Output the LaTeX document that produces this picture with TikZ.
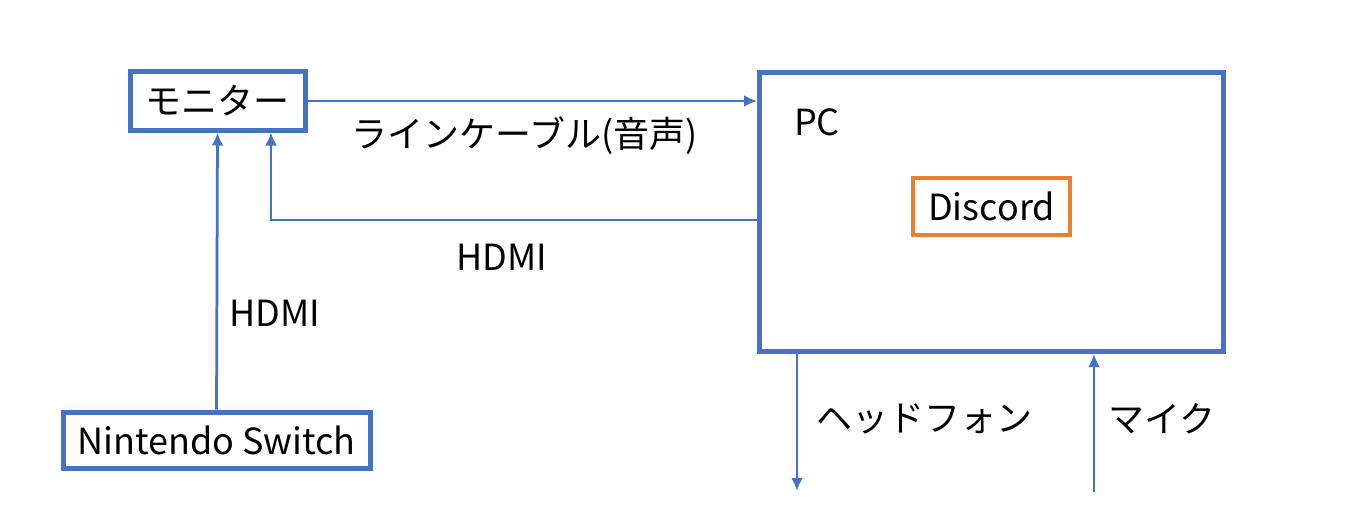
\documentclass[tikz,border=0pt]{standalone}
\usepackage{fontspec}
\setmainfont{Noto Sans CJK JP}
\usepackage{tikz}
\usetikzlibrary{arrows.meta}
\definecolor{boxblue}{HTML}{4472C4}
\definecolor{boxorange}{HTML}{ED7D31}
\tikzset{
  box/.style={draw=boxblue, line width=5pt, inner sep=0pt},
  link/.style={draw=boxblue, line width=2.75pt, -{Latex[length=13pt,width=12pt]}},
}

\begin{document}
\begin{tikzpicture}[x=1pt,y=-1pt,font=\fontsize{36}{40}\selectfont]
  \useasboundingbox (0,0) rectangle (1347,527);
      \draw (217.5,101) node[box,minimum width=175pt,minimum height=58pt] (monitor) {モニター};
      \draw (216.5,440) node[box,minimum width=307pt,minimum height=56pt] (switch) {Nintendo Switch};
      \draw (991.5,212) node[box,minimum width=464pt,minimum height=279pt] (pc) {};
      \draw (817,122) node (pclabel) {PC};
      \draw (991.5,206.5) node[box,draw=boxorange,line width=3.5pt,minimum width=157pt,minimum height=57pt] (discord) {Discord};
  \coordinate (pcout) at (759,220);
  \coordinate (phones) at (797,491);
  \coordinate (mic) at (1094,492);
      \draw[link] (monitor.east) -- (monitor.east -| pc.west);
      \draw[link] (switch.north) -- (monitor.south);
      \draw[link] (pcout) -| (monitor.south -| 271,0);
      \draw[link] (pc.south -| phones) -- (phones);
      \draw[link] (mic) -- (mic |- pc.south);
%%%%%%%%%%%%%%%%%%%%%%%%%%%%%%%%%%%%%%%%%%%%%%%%%%%%%%%%%%%%%%%%%%%%%%%
      \draw (525,136) node (linecable) {ラインケーブル(音声)};
      \draw (502,257) node (hdmipc) {HDMI};
      \draw (275,313) node (hdmisw) {HDMI};
      \draw (924,419) node (headphone) {ヘッドフォン};
      \draw (1162,419) node (mike) {マイク};
\end{tikzpicture}
\end{document}
